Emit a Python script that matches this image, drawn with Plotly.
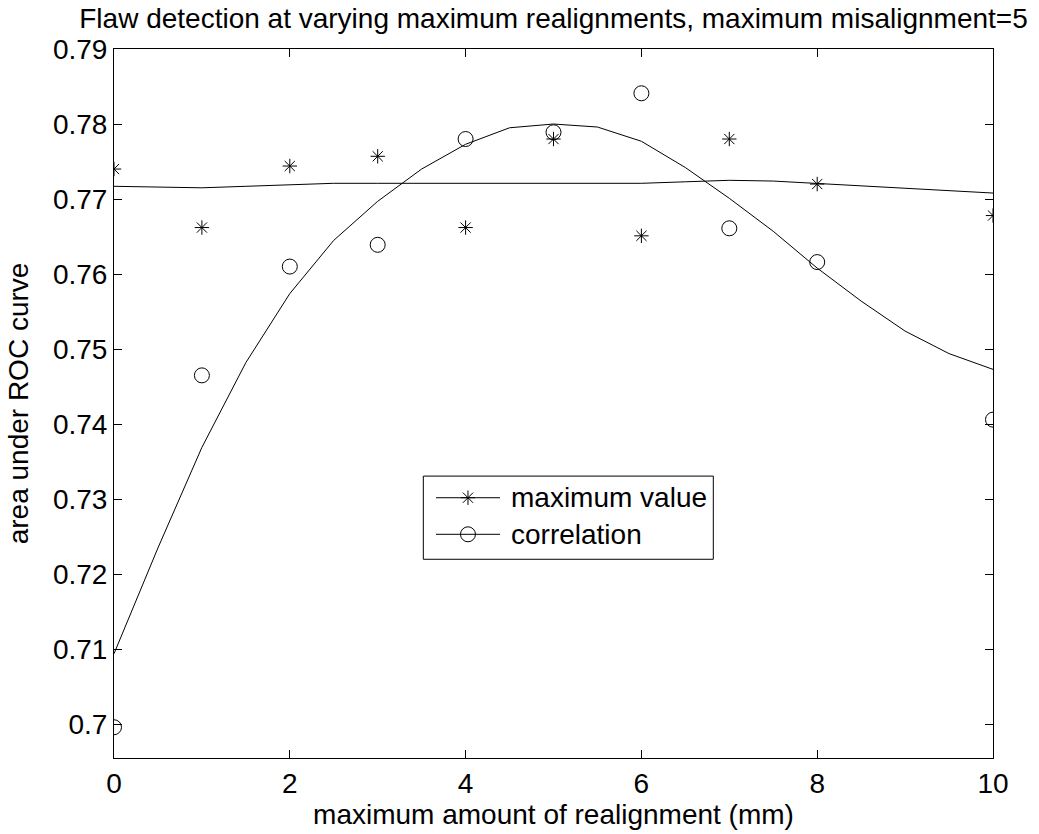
import plotly.graph_objects as go

# Measured AUC values at each realignment limit (mm)
x_points = [0, 1, 2, 3, 4, 5, 6, 7, 8, 10]
max_value_auc = [0.7740, 0.7662, 0.7744, 0.7757, 0.7662, 0.7780, 0.7651, 0.7780, 0.7720, 0.7678]
correlation_auc = [0.6996, 0.7465, 0.7610, 0.7639, 0.7780, 0.7789, 0.7841, 0.7661, 0.7616, 0.7406]

# Smoothed fit curves sampled every 0.5 mm
x_fit = [0, 0.5, 1, 1.5, 2, 2.5, 3, 3.5, 4, 4.5, 5, 5.5, 6, 6.5, 7, 7.5, 8, 8.5, 9, 9.5, 10]
max_value_fit = [0.7717, 0.7716, 0.7715, 0.7717, 0.7719, 0.7721, 0.7721, 0.7721, 0.7721, 0.7721,
                 0.7721, 0.7721, 0.7721, 0.7723, 0.7725, 0.7724, 0.7721, 0.7717, 0.7715, 0.7711, 0.7708]
correlation_fit = [0.7094, 0.7235, 0.7369, 0.7482, 0.7574, 0.7645, 0.7697, 0.7740, 0.7773, 0.7795,
                   0.7800, 0.7796, 0.7777, 0.7742, 0.7701, 0.7657, 0.7608, 0.7564, 0.7524, 0.7494, 0.7473]

series_names = ["maximum value", "correlation"]
series_symbols = ["asterisk-open", "circle-open"]
series_sizes = [12, 15]

y_ticks = [0.70, 0.71, 0.72, 0.73, 0.74, 0.75, 0.76, 0.77, 0.78, 0.79]
y_tick_text = ["0.7", "0.71", "0.72", "0.73", "0.74", "0.75", "0.76", "0.77", "0.78", "0.79"]
x_ticks = [0, 2, 4, 6, 8, 10]

FONT = "Liberation Sans, Arial, sans-serif"
FS = 28

fig = go.Figure()

# Fit curves
for yfit in (max_value_fit, correlation_fit):
    fig.add_trace(go.Scatter(x=x_fit, y=yfit, mode="lines",
                             line=dict(color="black", width=1), showlegend=False, hoverinfo="skip"))

# Measured points
for yv, sym, sz in zip((max_value_auc, correlation_auc), series_symbols, series_sizes):
    fig.add_trace(go.Scatter(x=x_points, y=yv, mode="markers",
                             marker=dict(symbol=sym, size=sz, color="black",
                                         line=dict(color="black", width=1)),
                             showlegend=False))

# Boxed legend drawn on an overlay axis spanning the plot area in [0, 1] units
box_x0, box_x1, box_y0, box_y1 = 0.3519, 0.6818, 0.2803, 0.3976
row_y = [0.3671, 0.3155]
key_x0, key_x1, key_mid, text_x = 0.3663, 0.4391, 0.4027, 0.4494

shapes = [dict(type="rect", xref="paper", yref="paper", x0=box_x0, x1=box_x1, y0=box_y0, y1=box_y1,
               line=dict(color="black", width=1), fillcolor="white", layer="below")]
annotations = []
for name, sym, sz, ry in zip(series_names, series_symbols, series_sizes, row_y):
    fig.add_trace(go.Scatter(x=[key_x0, key_x1], y=[ry, ry], mode="lines", xaxis="x2", yaxis="y2",
                             line=dict(color="black", width=1), showlegend=False, hoverinfo="skip"))
    fig.add_trace(go.Scatter(x=[key_mid], y=[ry], mode="markers", xaxis="x2", yaxis="y2",
                             marker=dict(symbol=sym, size=sz, color="black",
                                         line=dict(color="black", width=1)),
                             showlegend=False, hoverinfo="skip"))
    annotations.append(dict(text=name, xref="paper", yref="paper", x=text_x, y=ry,
                            xanchor="left", yanchor="middle", showarrow=False,
                            font=dict(family=FONT, size=FS, color="black")))

axis_common = dict(showline=True, linecolor="black", linewidth=1, mirror="ticks",
                   ticks="inside", ticklen=8, tickcolor="black", tickwidth=1,
                   showgrid=False, zeroline=False,
                   tickfont=dict(family=FONT, size=FS, color="black"))

fig.update_layout(
    width=1039, height=834,
    margin=dict(l=114, r=46, t=49, b=74),
    paper_bgcolor="white", plot_bgcolor="white",
    font=dict(family=FONT, color="black"),
    title=dict(text="Flaw detection at varying maximum realignments, maximum misalignment=5",
               x=0.5, xref="paper", xanchor="center", y=1 - 18 / 834, yanchor="middle",
               font=dict(family=FONT, size=FS, color="black")),
    xaxis=dict(range=[0, 10], tickvals=x_ticks,
               title=dict(text="maximum amount of realignment (mm)", standoff=4,
                          font=dict(family=FONT, size=FS, color="black")),
               **axis_common),
    yaxis=dict(range=[0.6955, 0.79], tickvals=y_ticks, ticktext=y_tick_text,
               title=dict(text="area under ROC curve", standoff=16,
                          font=dict(family=FONT, size=FS, color="black")),
               **axis_common),
    xaxis2=dict(range=[0, 1], overlaying="x", visible=False, fixedrange=True),
    yaxis2=dict(range=[0, 1], overlaying="y", visible=False, fixedrange=True),
    shapes=shapes,
    annotations=annotations,
    showlegend=False,
)

fig.write_html("out.html")
